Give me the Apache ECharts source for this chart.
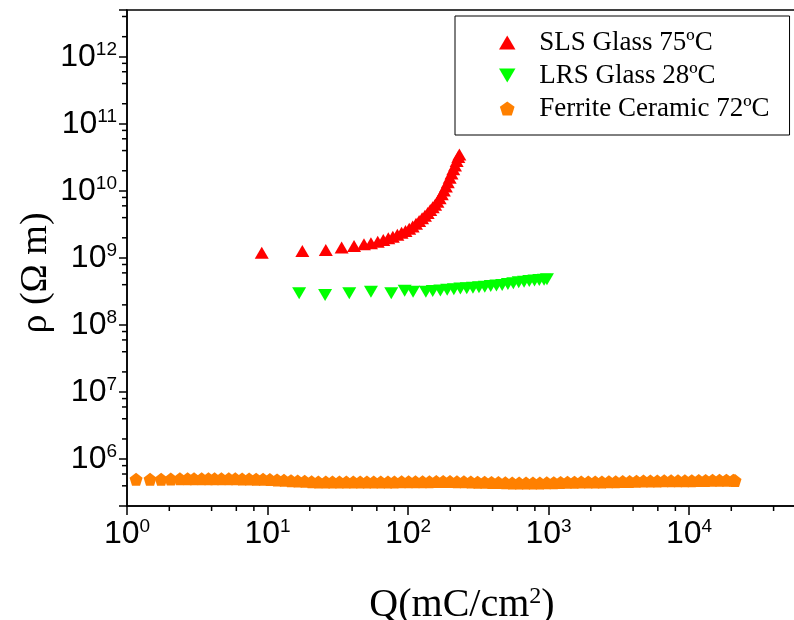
<!DOCTYPE html>
<html><head><meta charset="utf-8">
<script src="https://cdn.jsdelivr.net/npm/echarts@6/dist/echarts.min.js"></script>
<style>html,body{margin:0;padding:0;background:#fff}#c{width:794px;height:620px}</style>
</head><body><div id="c"></div>
<script>
// ---- data ----
const seriesNames = ['SLS Glass 75ºC', 'LRS Glass 28ºC', 'Ferrite Ceramic 72ºC'];

const slsQ = [9.1, 17.7, 26, 33.7, 41.3, 48.6, 54.5, 60.9, 66.7, 72.4, 78, 84, 90, 96, 102, 108, 114, 120, 126, 132, 138, 144, 150, 156, 162, 168, 174, 180, 186, 192, 198, 204, 210, 216, 222, 228, 232];
const slsRho = [1.20e9, 1.27e9, 1.32e9, 1.43e9, 1.51e9, 1.60e9, 1.66e9, 1.75e9, 1.86e9, 1.97e9, 2.08e9, 2.22e9, 2.37e9, 2.52e9, 2.72e9, 2.95e9, 3.25e9, 3.55e9, 3.9e9, 4.25e9, 4.7e9, 5.2e9, 5.7e9, 6.2e9, 6.9e9, 7.8e9, 8.9e9, 1.02e10, 1.17e10, 1.35e10, 1.58e10, 1.82e10, 2.1e10, 2.4e10, 2.8e10, 3.2e10, 3.5e10];

const lrsQ = [16.8, 25.7, 38.2, 54.5, 76, 94.7, 108.7, 134, 150, 170, 190, 212, 236, 262, 290, 320, 352, 388, 426, 468, 514, 562, 614, 670, 730, 795, 860, 930, 975];
const lrsRho = [2.98e8, 2.81e8, 2.98e8, 3.15e8, 2.98e8, 3.26e8, 3.15e8, 3.15e8, 3.22e8, 3.28e8, 3.35e8, 3.42e8, 3.5e8, 3.55e8, 3.6e8, 3.67e8, 3.74e8, 3.82e8, 3.9e8, 3.97e8, 4.08e8, 4.2e8, 4.33e8, 4.42e8, 4.52e8, 4.6e8, 4.68e8, 4.75e8, 4.8e8];

const ferQ = [1.16, 1.46, 1.75, 2.05, 2.38, 2.7, 3.0, 3.4, 3.8, 4.2, 4.7, 5.3, 5.9, 6.6, 7.4, 8.3, 9.3, 10.4, 11.7, 13.1, 14.7, 16.4, 18.4, 20.6, 23, 26, 29, 32.5, 36.4, 40.8, 45.7, 51, 57, 64, 72, 80, 90, 101, 113, 127, 142, 159, 178, 199, 223, 250, 280, 313, 351, 393, 440, 493, 552, 618, 692, 775, 868, 972, 1090, 1220, 1365, 1530, 1710, 1920, 2150, 2400, 2690, 3010, 3375, 3780, 4230, 4740, 5310, 5950, 6660, 7460, 8350, 9350, 10470, 11730, 13140, 14710, 16480, 18460, 20670, 21250];
const ferRho = [5.0e5, 5.0e5, 5.0e5, 5.05e5, 5.1e5,
  5.1e5, 5.1e5, 5.1e5, 5.1e5, 5.1e5, 5.08e5, 5.08e5, 5.08e5, 5.06e5, 5.05e5, 5.03e5, 5.0e5,
  4.95e5, 4.9e5, 4.85e5, 4.78e5, 4.72e5, 4.66e5, 4.6e5,
  4.57e5, 4.55e5, 4.56e5, 4.55e5, 4.56e5, 4.55e5, 4.56e5, 4.55e5, 4.56e5, 4.57e5, 4.56e5, 4.57e5, 4.58e5, 4.59e5, 4.6e5, 4.6e5, 4.61e5, 4.62e5,
  4.62e5, 4.62e5, 4.6e5, 4.58e5, 4.56e5, 4.54e5, 4.52e5, 4.5e5, 4.47e5, 4.45e5,
  4.42e5, 4.4e5, 4.4e5, 4.4e5, 4.41e5, 4.43e5,
  4.46e5, 4.5e5, 4.52e5, 4.54e5, 4.55e5, 4.56e5, 4.56e5, 4.57e5, 4.58e5, 4.6e5, 4.62e5, 4.65e5, 4.68e5,
  4.7e5, 4.72e5, 4.73e5, 4.74e5, 4.75e5, 4.76e5, 4.77e5, 4.78e5, 4.8e5,
  4.82e5, 4.84e5, 4.85e5, 4.86e5, 4.85e5, 4.8e5];

// axis ranges and minor tick values
const xMin = 1, xMax = 1e5;
const yMin = 2e5, yMax = 5e12;
const xMinorTicks = [2,4,6,8, 20,40,60,80, 200,400,600,800, 2000,4000,6000,8000, 20000,40000,60000,80000];
const yMinorTicks = [4e5,6e5,8e5, 2e6,4e6,6e6,8e6, 2e7,4e7,6e7,8e7, 2e8,4e8,6e8,8e8, 2e9,4e9,6e9,8e9, 2e10,4e10,6e10,8e10, 2e11,4e11,6e11,8e11, 2e12,4e12];

const zip = (a, b) => a.map((v, i) => [v, b[i]]);

const triUp = 'path://M1,0 L2,1.7 L0,1.7 Z';
const triDown = 'path://M0,0 L2,0 L1,1.7 Z';
const penta = 'path://M0,-1 L0.951,-0.309 L0.588,0.809 L-0.588,0.809 L-0.951,-0.309 Z';

const sansFont = '"Liberation Sans", Arial, sans-serif';
const serifFont = '"Liberation Serif", "Times New Roman", serif';

function expLabel(v) {
  const e = Math.log10(v);
  const r = Math.round(e);
  if (Math.abs(e - r) > 1e-6) return '';
  return '{b|10}{s|' + r + '}';
}
const labelRich = {
  b: { fontFamily: sansFont, fontSize: 32, color: '#000', lineHeight: 34 },
  s: { fontFamily: sansFont, fontSize: 19, color: '#000', lineHeight: 10, verticalAlign: 'top' }
};

const chart = echarts.init(document.getElementById('c'), null, { renderer: 'canvas' });
chart.setOption({
  animation: false,
  backgroundColor: '#fff',
  grid: { left: 127, right: -35.5, top: 10, bottom: 114, show: true, borderColor: '#000', borderWidth: 1.5, backgroundColor: 'transparent', containLabel: false, outerBoundsMode: 'none' },
  xAxis: {
    type: 'log', logBase: 10, min: xMin, max: xMax,
    axisLine: { show: true, lineStyle: { color: '#000', width: 1.5 } },
    axisTick: { show: true, inside: false, length: 9, lineStyle: { color: '#000', width: 1.5 } },
    splitLine: { show: false },
    axisLabel: { margin: 11, formatter: expLabel, rich: labelRich, color: '#000' }
  },
  yAxis: {
    type: 'log', logBase: 10, min: yMin, max: yMax,
    axisLine: { show: true, lineStyle: { color: '#000', width: 1.5 } },
    axisTick: { show: true, inside: false, length: 8, lineStyle: { color: '#000', width: 1.5 } },
    splitLine: { show: false },
    axisLabel: { margin: 10, formatter: expLabel, rich: labelRich, color: '#000' }
  },
  legend: {
    orient: 'vertical', left: 455, top: 16,
    padding: [13, 20, 13, 44], itemGap: 6, itemWidth: 24, itemHeight: 14,
    borderColor: '#000', borderWidth: 1, backgroundColor: '#fff',
    textStyle: { fontFamily: serifFont, fontSize: 27, color: '#000', lineHeight: 27, padding: [0, 0, 0, 15] },
    data: seriesNames
  },
  graphic: [
    { type: 'text', x: 36, y: 273, rotation: Math.PI / 2,
      style: { text: 'ρ (Ω m)', font: '38px ' + serifFont, fill: '#000', align: 'center', verticalAlign: 'middle' } },
    { type: 'text', x: 462, y: 605,
      style: { text: '{a|Q(mC/cm}{s|2}{a|)}', align: 'center', verticalAlign: 'middle',
        rich: { a: { fontFamily: serifFont, fontSize: 40, fill: '#000', color: '#000', lineHeight: 40 },
                s: { fontFamily: serifFont, fontSize: 24, fill: '#000', color: '#000', lineHeight: 16, verticalAlign: 'top' } } } }
  ],
  series: [
    { name: seriesNames[0], type: 'scatter', data: zip(slsQ, slsRho), symbol: triUp, symbolSize: [14, 12], itemStyle: { color: '#FF0000', opacity: 1 }, z: 3 },
    { name: seriesNames[1], type: 'scatter', data: zip(lrsQ, lrsRho), symbol: triDown, symbolSize: [14, 12], itemStyle: { color: '#00FF00', opacity: 1 }, z: 3 },
    { name: seriesNames[2], type: 'scatter', data: zip(ferQ, ferRho), symbol: penta, symbolSize: [13, 13], itemStyle: { color: '#FF8000', opacity: 1 }, z: 3 },
    { type: 'custom', coordinateSystem: 'cartesian2d', silent: true, clip: false, z: 5,
      data: xMinorTicks.map(v => [v, yMin]),
      renderItem: (p, api) => { const c = api.coord([api.value(0), api.value(1)]);
        return { type: 'line', shape: { x1: c[0], y1: c[1], x2: c[0], y2: c[1] + 5 }, style: { stroke: '#000', lineWidth: 1.5 } }; } },
    { type: 'custom', coordinateSystem: 'cartesian2d', silent: true, clip: false, z: 5,
      data: yMinorTicks.map(v => [xMin, v]),
      renderItem: (p, api) => { const c = api.coord([api.value(0), api.value(1)]);
        return { type: 'line', shape: { x1: c[0], y1: c[1], x2: c[0] - 5, y2: c[1] }, style: { stroke: '#000', lineWidth: 1.5 } }; } }
  ]
});
</script>
</body></html>
